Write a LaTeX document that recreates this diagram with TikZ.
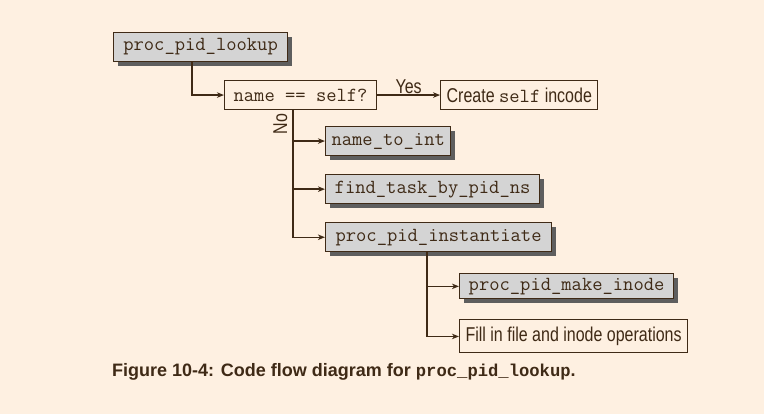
\documentclass[tikz,border=0pt]{standalone}
\usepackage{fontspec}
\setmainfont{Liberation Sans}
\newfontfamily\condfont[FakeStretch=0.8]{Liberation Sans}
\newfontfamily\capmono{Liberation Mono}
\usetikzlibrary{arrows.meta,positioning,shadows,calc}

\definecolor{paper}{HTML}{FEF0E1}
\definecolor{ink}{HTML}{3F2A16}
\definecolor{boxgray}{HTML}{D4D4D4}
\definecolor{shade}{HTML}{5E5E5E}

\begin{document}
\begin{tikzpicture}[
  x=1pt, y=-1pt,
  node distance=18pt and 63pt,
  text=ink,
  % Node styles
  callbox/.style={rectangle, draw=ink, line width=1.1pt, fill=boxgray, inner xsep=6pt, inner ysep=0pt, minimum height=29pt, align=center, font=\fontsize{20}{22}\selectfont\ttfamily, drop shadow={shadow xshift=4pt, shadow yshift=-4pt, fill=shade, opacity=1}},
  testbox/.style={rectangle, draw=ink, line width=1.1pt, fill=paper, inner xsep=6pt, inner ysep=0pt, minimum height=29pt, align=center},
  mono/.style={font=\fontsize{20}{22}\selectfont\ttfamily},
  lbl/.style={font=\fontsize{20}{22}\selectfont\condfont, text=ink},
  arr/.style={-{Stealth[length=7pt,width=5.5pt,inset=2pt]}, line width=1.4pt, draw=ink}
]

  % background / page size
  \fill[paper] (0,0) rectangle (764,414);

  % ============================================
  % Top: lookup and the self test
  % ============================================
  \node[callbox, anchor=north west, minimum width=174pt] (lookup) at (113,32) {proc\_pid\_lookup};
  \node[testbox, mono, anchor=north west, minimum width=152pt] (self) at (224,80) {name == self?};
  \node[testbox, lbl, right=of self, minimum width=154pt] (create) {Create {\fontsize{20}{22}\selectfont\ttfamily self} incode};

  % ============================================
  % No branch
  % ============================================
  \node[callbox, anchor=north west, minimum width=125pt] (ntoi) at (325,126) {name\_to\_int};
  \node[callbox, below=of ntoi.south west, anchor=north west, minimum width=214pt] (findtask) {find\_task\_by\_pid\_ns};
  \node[callbox, below=of findtask.south west, anchor=north west, minimum width=226pt] (inst) {proc\_pid\_instantiate};

  % instantiate children
  \node[callbox, anchor=north west, minimum width=214pt, minimum height=25pt] (mkinode) at ($(inst.south west)+(134,21)$) {proc\_pid\_make\_inode};
  \node[testbox, lbl, below=20pt of mkinode.south west, anchor=north west, minimum width=226pt, minimum height=33pt] (fillops) {Fill in file and inode operations};

  % ============================================
  % Edges
  % ============================================
  \coordinate (lkfork) at ($(lookup.south west)+(79,0)$);
  \draw[arr] (lkfork) |- (self.west);

  \draw[arr] (self) -- node[lbl, above, inner sep=1pt] (yes) {Yes} (create);

  \coordinate (nofork) at ($(self.south west)+(69,0)$);
  \node[lbl, rotate=90, anchor=south, inner sep=1.5pt] (no) at ($(nofork)+(-4,14)$) {No};
  \draw[arr] (nofork) |- (inst.west);
  \draw[arr] (nofork |- ntoi.west) -- (ntoi.west);
  \draw[arr] (nofork |- findtask.west) -- (findtask.west);

  \coordinate (instfork) at ($(inst.south west)+(102,0)$);
  \draw[arr] (instfork) |- (fillops.west);
  \draw[arr] (instfork |- mkinode.west) -- (mkinode.west);

  % caption
  \node[anchor=base west, inner sep=0pt, font=\fontsize{18}{20}\selectfont\bfseries] (caption) at (112,377)
    {Figure 10-4: Code flow diagram for {\fontsize{17.2}{20}\selectfont\capmono\bfseries proc\_pid\_lookup}.};

\end{tikzpicture}
\end{document}
